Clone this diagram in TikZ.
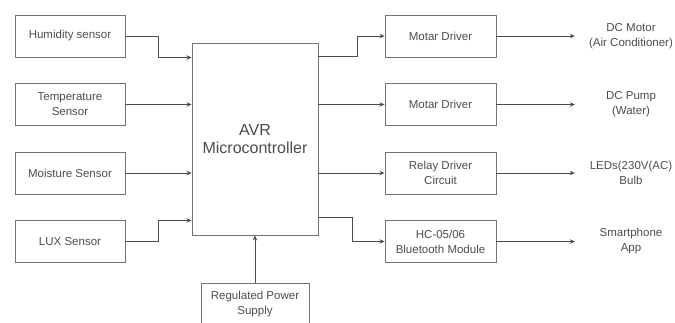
\documentclass[tikz,border=0pt]{standalone}
\usepackage{fontspec}
\setmainfont{Liberation Sans}
\usetikzlibrary{arrows.meta,positioning}

\begin{document}
\begin{tikzpicture}[x=1pt, y=-1pt]
  \tikzstyle{block} = [rectangle, draw=black!55, line width=0.9pt, minimum width=110pt, minimum height=42pt,
                      inner sep=2pt, align=center, text=black!70, font=\fontsize{11.5}{15}\selectfont]
  \tikzstyle{output} = [rectangle, minimum width=112pt, inner sep=0pt, align=center,
                       text=black!70, font=\fontsize{11.5}{15}\selectfont]
  \tikzstyle{arrow} = [-{Stealth[length=5pt,width=4.5pt]}, line width=0.9pt, draw=black!70]
  \useasboundingbox (0,0) rectangle (675,322);
  % sensors
  \node[block] (hum) at (70,36) {Humidity sensor};
  \node[block, below=25.6pt of hum] (temp) {Temperature\\Sensor};
  \node[block, below=25.6pt of temp] (moist) {Moisture Sensor};
  \node[block, below=25.6pt of moist] (lux) {LUX Sensor};
  % controller and supply
  \node[block, minimum width=126pt, minimum height=192pt, font=\fontsize{16}{18}\selectfont] (mcu) at (255,139) {AVR\\Microcontroller};
  \node[block, minimum width=108pt, minimum height=43pt] (psu) at (255,304.5) {Regulated Power\\Supply};
  % drivers
  \node[block, minimum width=111pt] (mot1) at (440.5,36) {Motar Driver};
  \node[block, minimum width=111pt, below=25.6pt of mot1] (mot2) {Motar Driver};
  \node[block, minimum width=111pt, below=25.6pt of mot2] (relay) {Relay Driver\\Circuit};
  \node[block, minimum width=111pt, below=25.6pt of relay] (bt) {HC-05/06\\Bluetooth Module};
  % loads
  \node[output] (dcm) at (631,36) {DC Motor\\(Air Conditioner)};
  \node[output] (pump) at (dcm |- mot2) {DC Pump\\(Water)};
  \node[output] (bulb) at (dcm |- relay) {LEDs(230V(AC)\\Bulb};
  \node[output] (app) at (dcm |- bt) {Smartphone\\App};
  % inputs
  \draw[arrow] (hum.east) -- ++(33,0) |- ([yshift=-15pt]mcu.north west);
  \draw[arrow] (temp) -- (temp -| mcu.west);
  \draw[arrow] (moist) -- (moist -| mcu.west);
  \draw[arrow] (lux.east) -- ++(33,0) |- ([yshift=15pt]mcu.south west);
  \draw[arrow] (psu) -- (mcu);
  % outputs
  \draw[arrow] ([yshift=-14pt]mcu.north east) -- ++(39,0) |- (mot1.west);
  \draw[arrow] (mcu.east |- mot2) -- (mot2);
  \draw[arrow] (mcu.east |- relay) -- (relay);
  \draw[arrow] ([yshift=18pt]mcu.south east) -- ++(34,0) |- (bt.west);
  \draw[arrow] (mot1) -- (dcm);
  \draw[arrow] (mot2) -- (pump);
  \draw[arrow] (relay) -- (bulb);
  \draw[arrow] (bt) -- (app);
\end{tikzpicture}
\end{document}
